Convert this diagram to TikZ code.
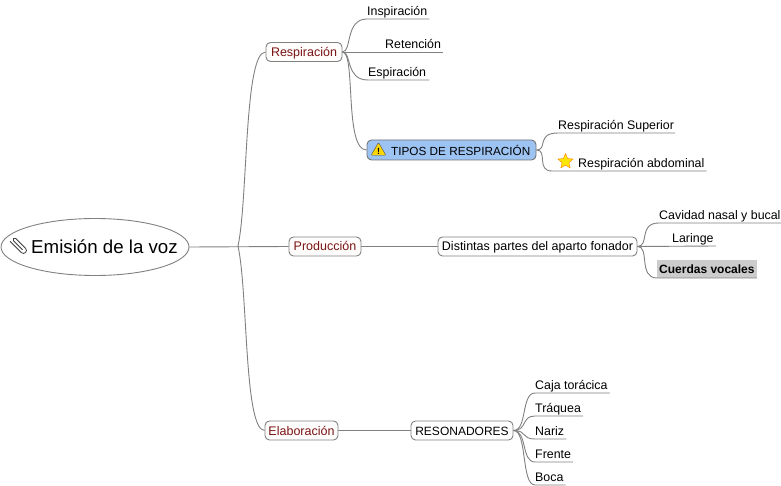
\documentclass[tikz,border=0pt]{standalone}
\usepackage{fontspec}
\setmainfont{Liberation Sans}
\usetikzlibrary{shapes.geometric}
\definecolor{linkgray}{HTML}{808080}
\definecolor{redtext}{HTML}{7A1414}
\definecolor{tiposblue}{HTML}{9DC3F2}
\begin{document}
\begin{tikzpicture}[
    x=1pt, y=-1pt,
    box/.style={draw=linkgray, rounded corners=4.5pt, align=center, minimum height=19pt, inner sep=0pt, line width=0.9pt, text height=11.5pt, text depth=2.5pt, font=\fontsize{12.5}{14}\selectfont},
    topic/.style={box, text=redtext, fill=red!1},
    leaf/.style={anchor=south west, inner xsep=0pt, inner ysep=0.7pt, text height=9pt, text depth=3pt, font=\fontsize{12.4}{14}\selectfont},
    link/.style={draw=linkgray, line width=0.9pt}
]
\useasboundingbox (0,0) rectangle (781,486);
\node[ellipse, draw=linkgray, line width=0.9pt, fill=white, minimum width=188pt, minimum height=57pt, inner sep=0pt] (root) at (95,247) {};
\node[anchor=west, inner sep=0pt, font=\fontsize{18.7}{22}\selectfont] (title) at (31,247) {Emisión de la voz};
% paper clip
\draw[line width=0.8pt, black!75, shift={(18.5,245.5)}, rotate=-45] (-9,3) -- (7,3) arc (90:-90:3) -- (-7,-3) arc (270:90:1.6) -- (6,0.2);
\coordinate (hub) at (238,246);

\node[topic, minimum width=76pt] (resp) at (304,52) {Respiración};
\node[topic, minimum width=72pt] (prod) at (325,246.5) {Producción};
\node[topic, minimum width=73pt] (elab) at (301.5,430.5) {Elaboración};
\node[box, fill=tiposblue, draw=black!55, minimum width=169pt, minimum height=20pt] (tipos) at (451.5,150) {};
\node[anchor=west, inner sep=0pt, font=\fontsize{11.75}{14}\selectfont] (tipostext) at (391,150) {TIPOS DE RESPIRACIÓN};
\node[box, minimum width=199pt] (partes) at (537.5,246.5) {Distintas partes del aparto fonador};
\node[box, minimum width=102pt, font=\fontsize{12}{14}\selectfont] (reso) at (462,430.5) {RESONADORES};

\node[regular polygon, regular polygon sides=3, draw=black!70, fill=yellow!75!orange, rounded corners=1pt, minimum size=17pt, inner sep=0pt] (warn) at (378.5,151) {};
\node[font=\bfseries\fontsize{9}{9}\selectfont, inner sep=0pt] (warnmark) at (378.5,151.5) {!};
\node[star, star points=5, star point ratio=2.2, draw=orange, fill=yellow!90!orange, minimum size=16pt, inner sep=0pt] (staricon) at (565.5,161.5) {};

\node[leaf] (insp) at (367,19) {Inspiración};
\node[leaf] (ret) at (385,52) {Retención};
\node[leaf] (esp) at (368,80) {Espiración};
\node[leaf] (sup) at (558,133) {Respiración Superior};
\node[leaf] (abd) at (578,171) {Respiración abdominal};
\node[leaf] (cav) at (659,223) {Cavidad nasal y bucal};
\node[leaf] (lar) at (672,246) {Laringe};
\node[leaf, fill=black!20, inner xsep=2pt, inner ysep=2pt, text height=12pt, text depth=2pt, font=\bfseries\fontsize{12}{14}\selectfont] (cuer) at (657,278) {Cuerdas vocales};
\node[leaf] (caja) at (535,393) {Caja torácica};
\node[leaf] (traq) at (535,416) {Tráquea};
\node[leaf] (nariz) at (535,439) {Nariz};
\node[leaf] (fren) at (535,462) {Frente};
\node[leaf] (boca) at (535,485) {Boca};

\draw[link] (root.east) -- (prod.west);
\draw[link] (hub) .. controls (248,200) and (244,52) .. (resp.west);
\draw[link] (hub) .. controls (248,292) and (244,430) .. (elab.west);
\draw[link] (prod.east) -- (partes.west);
\draw[link] (elab.east) -- (reso.west);
\draw[link] (resp.east) .. controls (352,52) and (345,19) .. (insp.south west) -- ([xshift=2pt]insp.south east);
\draw[link] (resp.east) -- ([xshift=2pt]ret.south east);
\draw[link] (resp.east) .. controls (352,52) and (345,80) .. (esp.south west) -- ([xshift=3pt]esp.south east);
\draw[link] (resp.east) .. controls (356,52) and (344,150) .. (tipos.west);
\draw[link] (tipos.east) .. controls (548,150) and (536,133) .. (sup.south west) -- ([xshift=1pt]sup.south east);
\draw[link] (tipos.east) .. controls (548,150) and (536,171) .. (552,171) -- ([xshift=2pt]abd.south east);
\draw[link] (partes.east) .. controls (650,246) and (638,223) .. (cav.south west) -- ([xshift=2pt]cav.south east);
\draw[link] (partes.east) -- ([xshift=2pt]lar.south east);
\draw[link] (partes.east) .. controls (650,246) and (638,278) .. (cuer.south west) -- (cuer.south east);
\foreach \n in {caja,traq,nariz,fren,boca}
  \draw[link] (reso.east) .. controls +(14,0) and +(-14,0) .. (\n.south west) -- ([xshift=2pt]\n.south east);
\end{tikzpicture}
\end{document}
